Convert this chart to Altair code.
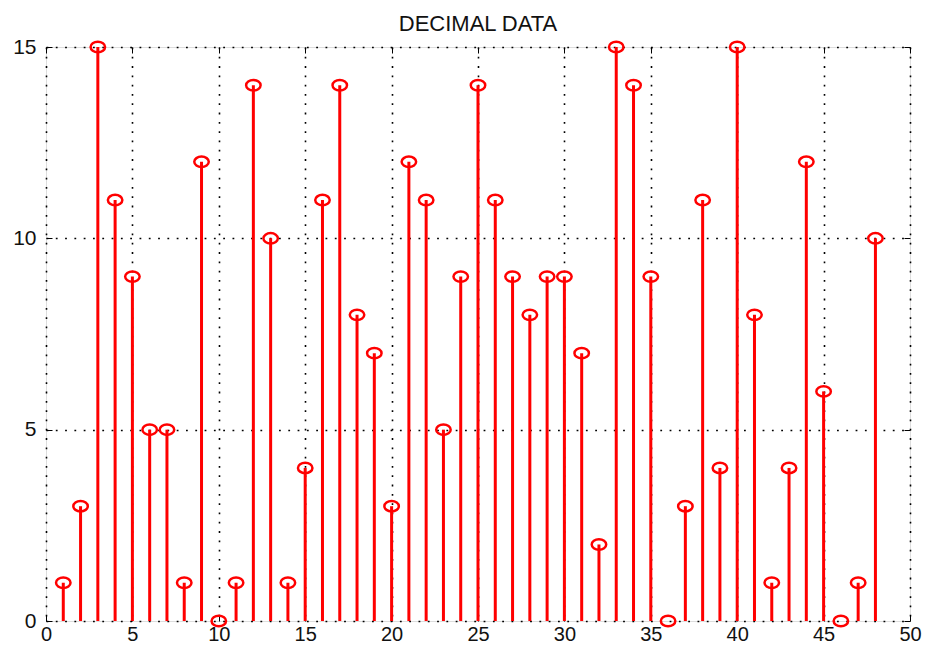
import altair as alt
import pandas as pd

idx = list(range(1, 49))
values = [1, 3, 15, 11, 9, 5, 5, 1, 12, 0, 1, 14, 10, 1, 4, 11, 14, 8, 7, 3,
          12, 11, 5, 9, 14, 11, 9, 8, 9, 9, 7, 2, 15, 14, 9, 0, 3, 11, 4, 15,
          8, 1, 4, 12, 6, 0, 1, 10]
x_ticks = [0, 5, 10, 15, 20, 25, 30, 35, 40, 45, 50]
y_ticks = [0, 5, 10, 15]

df = pd.DataFrame({"n": idx, "v": values})

xs = alt.Scale(domain=[0, 50], nice=False, zero=False)
ys = alt.Scale(domain=[0, 15], nice=False)

FONT = "Liberation Sans"
ELLIPSE = "M -1 0 A 1 0.72 0 1 0 1 0 A 1 0.72 0 1 0 -1 0 Z"

stems = alt.Chart(df).mark_rule(color="#ff0000", strokeWidth=3).encode(
    x=alt.X("n:Q", scale=xs, axis=alt.Axis(
        orient="bottom", values=x_ticks, title=None, offset=-6, tickSize=6,
        tickColor="black", domain=False, labelPadding=3, labelFontSize=20,
        labelFlush=False, labelOverlap=False,
        labelFont=FONT, labelColor="#111", grid=True, gridColor="black",
        gridDash=[1.8, 7.5], gridWidth=1.6, gridOpacity=1)),
    y=alt.Y("v:Q", scale=ys, axis=alt.Axis(
        orient="left", values=y_ticks, title=None, offset=-6, tickSize=6,
        tickColor="black", domain=False, labelPadding=10, labelFontSize=21,
        labelFlush=False, labelOverlap=False,
        labelFont=FONT, labelColor="#111", grid=True, gridColor="black",
        gridDash=[1.8, 7.5], gridWidth=1.6, gridOpacity=1)),
    y2=alt.datum(0),
)

pts = alt.Chart(df).mark_point(shape=ELLIPSE, filled=False, color="#ff0000",
                                strokeWidth=2.5, size=210, opacity=1).encode(
    x=alt.X("n:Q", scale=xs, axis=alt.Axis(
        orient="top", values=x_ticks, title=None, offset=-6, tickSize=6,
        tickColor="black", domain=False, labels=False, grid=False)),
    y=alt.Y("v:Q", scale=ys, axis=alt.Axis(
        orient="right", values=y_ticks, title=None, offset=-6, tickSize=6,
        tickColor="black", domain=False, labels=False, grid=False)),
)

chart = alt.layer(stems, pts).resolve_axis(x="independent", y="independent").properties(
    width=864, height=574,
    title=alt.Title("DECIMAL DATA", fontSize=22, font=FONT, fontWeight="normal",
                    color="#111", anchor="middle", offset=0),
    autosize=alt.AutoSizeParams(type="none"),
    padding={"left": 38, "top": 39, "right": 14, "bottom": 27},
).configure_view(stroke="black", strokeWidth=1.3).configure(background="white")

chart.save("out.html", embed_options={"renderer": "svg", "actions": False})
